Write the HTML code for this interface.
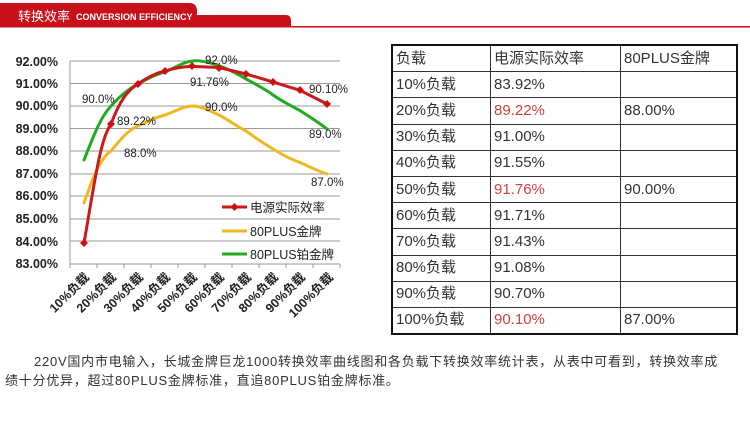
<!DOCTYPE html>
<html><head><meta charset="utf-8"><style>
body{margin:0;width:750px;height:424px;background:#fff;overflow:hidden;position:relative;font-family:"Liberation Sans","Noto Sans CJK SC",sans-serif}
.t{position:absolute;left:391px;top:44px;border-collapse:collapse;border:2px solid #111;font-size:15px;color:#333}
.t td{border:1px solid #333;height:25.2px;padding:0 0 0 3px;line-height:24px}
.r{color:#d04040}
.p{position:absolute;font-size:13px;color:#333;left:5px;width:745px;line-height:19px;letter-spacing:0.75px;white-space:nowrap}
</style></head><body>
<svg width="750" height="424" style="position:absolute;left:0;top:0" font-family="Liberation Sans, Noto Sans CJK SC, sans-serif">
<path d="M0,3 H190 Q196,3 197,10 V15 H286 Q291,15 291,21 V27 H0 Z" fill="#c8101c"/>
<rect x="0" y="26" width="750" height="1.5" fill="#c8101c"/>
<text x="18" y="21" fill="#fff" font-size="13">转换效率</text>
<text x="76" y="20" fill="#fff" font-size="9" font-weight="bold">CONVERSION EFFICIENCY</text>
<g stroke="#999" stroke-width="1">
<line x1="70" x2="340" y1="61" y2="61"/><line x1="70" x2="340" y1="83.5" y2="83.5"/><line x1="70" x2="340" y1="106" y2="106"/><line x1="70" x2="340" y1="128.5" y2="128.5"/><line x1="70" x2="340" y1="151" y2="151"/><line x1="70" x2="340" y1="174" y2="174"/><line x1="70" x2="340" y1="196" y2="196"/><line x1="70" x2="340" y1="219" y2="219"/><line x1="70" x2="340" y1="241" y2="241"/>
<line x1="70" x2="340" y1="264" y2="264"/><line x1="70" x2="70" y1="61" y2="268"/>
<path d="M97,264v4M124,264v4M151,264v4M178,264v4M205,264v4M232,264v4M259,264v4M286,264v4M313,264v4M340,264v4"/>
</g>
<g font-size="12.5" font-weight="bold" fill="#222" text-anchor="end">
<text x="58" y="66">92.00%</text><text x="58" y="88">91.00%</text><text x="58" y="110">90.00%</text><text x="58" y="133">89.00%</text><text x="58" y="155">88.00%</text><text x="58" y="178">87.00%</text><text x="58" y="200">86.00%</text><text x="58" y="223">85.00%</text><text x="58" y="246">84.00%</text><text x="58" y="268">83.00%</text>
</g>
<g font-size="12.5" font-weight="bold" fill="#222" text-anchor="end">
<text transform="translate(90,278) rotate(-45)">10%负载</text><text transform="translate(117,278) rotate(-45)">20%负载</text><text transform="translate(144,278) rotate(-45)">30%负载</text><text transform="translate(171,278) rotate(-45)">40%负载</text><text transform="translate(198,278) rotate(-45)">50%负载</text><text transform="translate(225,278) rotate(-45)">60%负载</text><text transform="translate(252,278) rotate(-45)">70%负载</text><text transform="translate(279,278) rotate(-45)">80%负载</text><text transform="translate(306,278) rotate(-45)">90%负载</text><text transform="translate(334,278) rotate(-45)">100%负载</text>
</g>
<g fill="none" stroke-width="3" stroke-linejoin="round" stroke-linecap="round">
<path stroke="#f0b820" d="M84,203 C92,180 100,158 111,151 C120,140 128,130 138,126 C150,120 157,117 165,115 C178,110 185,106 192,106 C202,106 210,111 219,115 C230,121 238,127 246,131 C257,139 265,144 273,149 C283,155 290,159 300,162.5 C310,167 318,171 327,174"/>
<path stroke="#22aa22" d="M84,160 C94,135 100,118 111,106 C120,96 128,89 138,84 C150,77 157,74 165,72 C176,67 184,62 192,61 C202,60 210,63 219,65.5 C230,70 238,74 246,79 C257,85 265,89 273,95 C283,102 290,105 300,110.6 C310,117 318,122 327,129"/>
<path stroke="#cc1a1a" d="M84,243 C95,180 100,140 111,124 C120,100 128,90 138,84 C148,77 156,73 165,71 C175,68 184,66.5 192,66.4 L219,67.5 L246,74 L273,82 L300,90.3 L327,104"/>
</g>
<g fill="#d01010">
<path d="M84,239l4,4-4,4-4-4z M111,120l4,4-4,4-4-4z M138,80l4,4-4,4-4-4z M165,67l4,4-4,4-4-4z M192,62l4,4-4,4-4-4z M219,64l4,4-4,4-4-4z M246,70l4,4-4,4-4-4z M273,78l4,4-4,4-4-4z M300,86l4,4-4,4-4-4z M327,100l4,4-4,4-4-4z"/>
</g>
<g font-size="11.5" fill="#222">
<text x="82" y="103">90.0%</text><text x="117" y="125">89.22%</text><text x="124" y="157">88.0%</text><text x="205" y="64">92.0%</text><text x="190" y="86">91.76%</text><text x="205" y="111">90.0%</text><text x="309" y="93">90.10%</text><text x="309" y="138">89.0%</text><text x="311" y="186">87.0%</text>
</g>
<line x1="222" x2="247" y1="207" y2="207" stroke="#cc1a1a" stroke-width="3"/><path d="M234.5,203l4,4-4,4-4-4z" fill="#d01010"/>
<line x1="222" x2="247" y1="231" y2="231" stroke="#f0b820" stroke-width="3"/>
<line x1="222" x2="247" y1="254" y2="254" stroke="#22aa22" stroke-width="3"/>
<g font-size="12.5" fill="#222"><text x="250" y="212">电源实际效率</text><text x="250" y="236">80PLUS金牌</text><text x="250" y="259">80PLUS铂金牌</text></g>
</svg>
<table class="t">
<tr><td style="width:94px">负载</td><td style="width:126px">电源实际效率</td><td style="width:112px">80PLUS金牌</td></tr>
<tr><td>10%负载</td><td>83.92%</td><td></td></tr>
<tr><td>20%负载</td><td class="r">89.22%</td><td>88.00%</td></tr>
<tr><td>30%负载</td><td>91.00%</td><td></td></tr>
<tr><td>40%负载</td><td>91.55%</td><td></td></tr>
<tr><td>50%负载</td><td class="r">91.76%</td><td>90.00%</td></tr>
<tr><td>60%负载</td><td>91.71%</td><td></td></tr>
<tr><td>70%负载</td><td>91.43%</td><td></td></tr>
<tr><td>80%负载</td><td>91.08%</td><td></td></tr>
<tr><td>90%负载</td><td>90.70%</td><td></td></tr>
<tr><td>100%负载</td><td class="r">90.10%</td><td>87.00%</td></tr>
</table>
<div class="p" style="top:352px"><span style="padding-left:29px"></span>220V国内市电输入，长城金牌巨龙1000转换效率曲线图和各负载下转换效率统计表，从表中可看到，转换效率成<br>绩十分优异，超过80PLUS金牌标准，直追80PLUS铂金牌标准。</div>
</body></html>
